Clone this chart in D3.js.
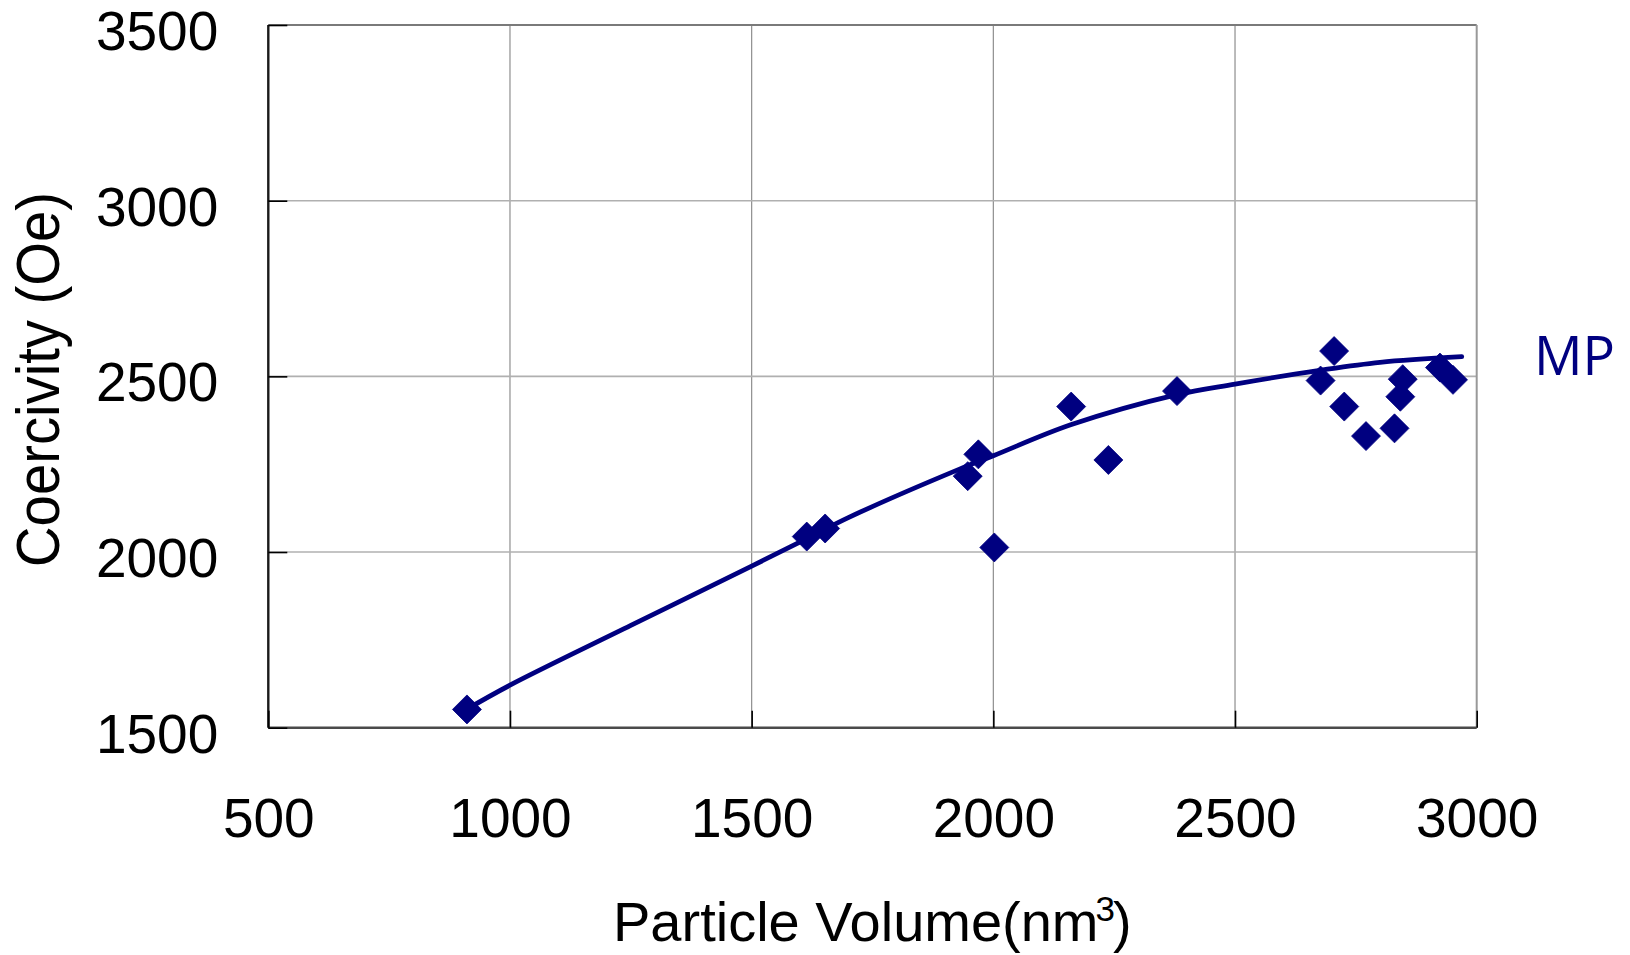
<!DOCTYPE html>
<html>
<head>
<meta charset="utf-8">
<script src="https://cdn.jsdelivr.net/npm/d3@7"></script>
<style>
  html, body { margin: 0; padding: 0; background: #ffffff; }
  svg { display: block; }
</style>
</head>
<body>
<svg id="chart" width="1630" height="955"></svg>
<script>
// ---------- data ----------
const volume      = [911, 1614, 1652, 1947, 1969, 2002, 2161, 2238, 2380, 2677, 2705, 2726, 2771, 2830, 2842, 2847, 2924, 2951];
const coercivity  = [1552, 2044, 2067, 2216, 2278, 2013, 2414, 2262, 2458, 2488, 2572, 2414, 2330, 2352, 2442, 2492, 2525, 2490];

const fitVolume     = [910, 1000, 1250, 1500, 1614, 1700, 1930, 2000, 2160, 2380, 2500, 2675, 2800, 2969];
const fitCoercivity = [1552, 1621, 1791, 1960, 2038, 2098, 2236, 2274, 2362, 2448, 2478, 2517, 2540, 2556];

const xTicks = [500, 1000, 1500, 2000, 2500, 3000];
const yTicks = [1500, 2000, 2500, 3000, 3500];

const seriesLabel = "MP";
const xTitle = "Particle Volume(nm";
const xTitleSup = "3";
const xTitleEnd = ")";
const yTitle = "Coercivity (Oe)";

// ---------- layout ----------
const svg = d3.select("#chart");
const L = 268.3, R = 1476.7, T = 25, B = 727.7;
const navy = "#000080";

const x = d3.scaleLinear().domain([500, 3000]).range([L, R]);
const y = d3.scaleLinear().domain([1500, 3500]).range([B, T]);

// gridlines
svg.append("g").selectAll("line").data(xTicks.slice(1, -1)).join("line")
  .attr("x1", d => x(d)).attr("x2", d => x(d))
  .attr("y1", T).attr("y2", B)
  .attr("stroke", "#8e8e8e").attr("stroke-width", 1.2);

svg.append("g").selectAll("line").data(yTicks.slice(1, -1)).join("line")
  .attr("x1", L).attr("x2", R)
  .attr("y1", d => y(d)).attr("y2", d => y(d))
  .attr("stroke", "#b0b0b0").attr("stroke-width", 1.6);

// frame
svg.append("line").attr("x1", L).attr("x2", R).attr("y1", T).attr("y2", T)
  .attr("stroke", "#7a7a7a").attr("stroke-width", 2);
svg.append("line").attr("x1", R).attr("x2", R).attr("y1", T).attr("y2", B)
  .attr("stroke", "#999999").attr("stroke-width", 2);
svg.append("line").attr("x1", L).attr("x2", R).attr("y1", B).attr("y2", B)
  .attr("stroke", "#4a4a4a").attr("stroke-width", 2.4);
svg.append("line").attr("x1", L).attr("x2", L).attr("y1", T).attr("y2", B)
  .attr("stroke", "#1a1a1a").attr("stroke-width", 2.4);

// axes
const fontAx = "Arial, 'Liberation Sans', Helvetica, sans-serif";
const fmt = d3.format("d");

const yAxis = d3.axisLeft(y).tickValues(yTicks).tickFormat(fmt)
  .tickSizeInner(-19).tickSizeOuter(0).tickPadding(50);
const gy = svg.append("g").attr("transform", `translate(${L},0)`).call(yAxis);
gy.select(".domain").remove();
gy.selectAll(".tick line").attr("stroke", "#000").attr("stroke-width", 1.6);
gy.selectAll(".tick text")
  .attr("dy", "24.5px")
  .attr("font-family", fontAx).attr("font-size", 55).attr("fill", "#000");

const xAxis = d3.axisBottom(x).tickValues(xTicks).tickFormat(fmt)
  .tickSizeInner(-17).tickSizeOuter(0).tickPadding(0);
const gx = svg.append("g").attr("transform", `translate(0,${B})`).call(xAxis);
gx.select(".domain").remove();
gx.selectAll(".tick line").attr("stroke", "#000").attr("stroke-width", 1.6);
gx.selectAll(".tick text")
  .attr("y", 109).attr("dy", 0)
  .attr("font-family", fontAx).attr("font-size", 55).attr("fill", "#000");

// trend line
const line = d3.line()
  .x((d, i) => x(fitVolume[i]))
  .y((d, i) => y(fitCoercivity[i]))
  .curve(d3.curveCatmullRom.alpha(0.5));
svg.append("path")
  .datum(fitVolume)
  .attr("d", line)
  .attr("fill", "none")
  .attr("stroke", navy)
  .attr("stroke-width", 4.8)
  .attr("stroke-linecap", "round");

// diamond markers
const squareDiamond = {
  draw(ctx, size) {
    const r = Math.sqrt(size / 2);
    ctx.moveTo(0, -r); ctx.lineTo(r, 0); ctx.lineTo(0, r); ctx.lineTo(-r, 0); ctx.closePath();
  }
};
const sym = d3.symbol().type(squareDiamond).size(2 * 14.5 * 14.5);
svg.append("g").selectAll("path").data(volume).join("path")
  .attr("transform", (d, i) => `translate(${x(volume[i])},${y(coercivity[i])})`)
  .attr("d", sym)
  .attr("fill", navy)
  .attr("stroke", navy).attr("stroke-width", 0.8).attr("stroke-linejoin", "round");

// series label
svg.append("text")
  .attr("x", 1534).attr("y", 375)
  .attr("font-family", "'Open Sans', 'Noto Sans', sans-serif")
  .attr("font-size", 55)
  .attr("textLength", 81).attr("lengthAdjust", "spacingAndGlyphs")
  .attr("fill", navy)
  .text(seriesLabel);

// axis titles
const xt = svg.append("text")
  .attr("x", 613).attr("y", 941)
  .attr("font-family", fontAx).attr("font-size", 56).attr("fill", "#000");
xt.append("tspan").text(xTitle);
xt.append("tspan").attr("dx", -3).attr("dy", -20).attr("font-size", 35).text(xTitleSup);
xt.append("tspan").attr("dx", -2).attr("dy", 20).text(xTitleEnd);

svg.append("text")
  .attr("transform", "translate(59,379.5) rotate(-90)")
  .attr("text-anchor", "middle")
  .attr("font-family", fontAx).attr("font-size", 62).attr("fill", "#000")
  .attr("textLength", 375).attr("lengthAdjust", "spacingAndGlyphs")
  .text(yTitle);
</script>
</body>
</html>
